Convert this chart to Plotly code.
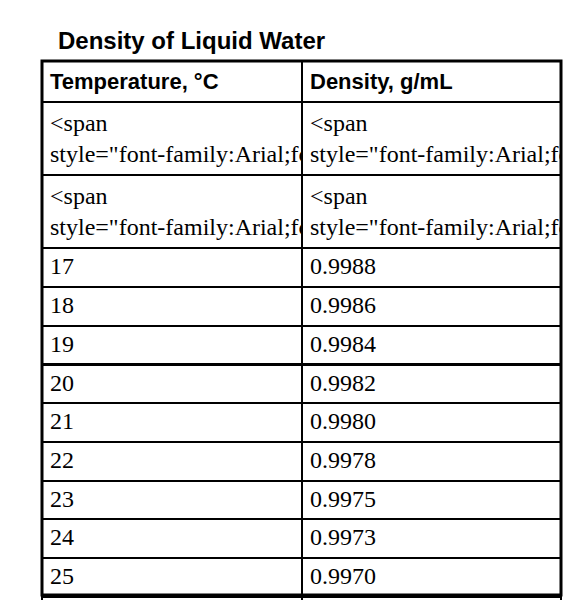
import plotly.graph_objects as go

# 数据
temps = ["15", "16", "17", "18", "19", "20", "21", "22", "23", "24", "25", "26", "30"]
densities = ["0.9991", "0.9989", "0.9988", "0.9986", "0.9984", "0.9982", "0.9980",
             "0.9978", "0.9975", "0.9973", "0.9970", "0.9968", "0.9957"]
headers = ["<b>Temperature, °C</b>", "<b>Density, g/mL</b>"]

W, H = 586, 600
left, right, top = 34, 553, 53


# 前两行是 Arial，其余是 Times
def styled(vals):
    return [f'<span style="font-family:Arial;font-size:22px">{v}</span>' if i < 2 else v
            for i, v in enumerate(vals)]


fig = go.Figure(go.Table(
    domain=dict(x=[left / W, right / W], y=[0, 1 - top / H]),
    columnwidth=[260, 259],
    header=dict(values=headers, align="left", height=31,
                font=dict(family="Arial", size=22, color="black"),
                line=dict(color="black", width=2), fill_color="white"),
    cells=dict(values=[styled(temps), styled(densities)], align="left", height=38.7,
               font=dict(family="Liberation Serif", size=24, color="black"),
               line=dict(color="black", width=2), fill_color="white"),
))

# 外框
fig.add_shape(type="rect", xref="paper", yref="paper",
              x0=left / W, x1=right / W, y0=1 - 587 / H, y1=1 - top / H,
              line=dict(color="black", width=3))

fig.add_annotation(text="<b>Density of Liquid Water</b>", xref="paper", yref="paper",
                   x=48 / W, y=1 - 32 / H, xanchor="left", yanchor="middle",
                   showarrow=False, font=dict(family="Arial", size=24, color="black"))
fig.add_annotation(text="Information from the <i>CRC Handbook of Chemistry and Physics</i>",
                   xref="paper", yref="paper", x=48 / W, y=1 - 602 / H,
                   xanchor="left", yanchor="middle", showarrow=False,
                   font=dict(family="Arial", size=19, color="black"))

fig.update_layout(width=W, height=H, margin=dict(l=0, r=0, t=0, b=0),
                  paper_bgcolor="white", plot_bgcolor="white")

fig.write_html("out.html")
